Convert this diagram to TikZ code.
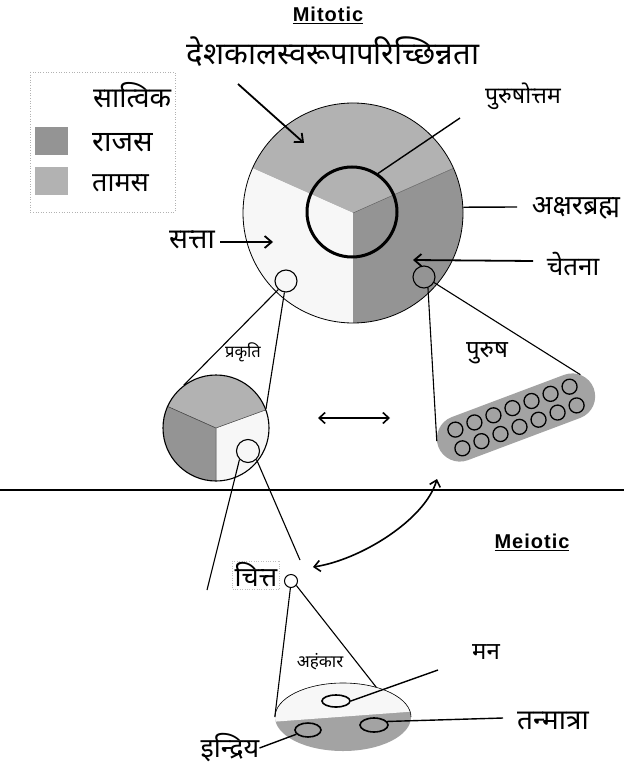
\documentclass[tikz,border=0pt]{standalone}
\usepackage{fontspec}
\setmainfont{Liberation Sans}
\newfontfamily\dev[Script=Devanagari]{Noto Sans}
\usetikzlibrary{arrows.meta,shapes.misc,shapes.geometric}
\definecolor{tamas}{gray}{0.70}
\definecolor{rajas}{gray}{0.58}
\definecolor{satv}{gray}{0.97}
\definecolor{pgray}{gray}{0.64}
\begin{document}
\begin{tikzpicture}[x=1pt,y=-1pt,
  conn/.style={line width=1.1pt},
  arr/.style={line width=1.8pt,-{Straight Barb[length=7pt,width=12pt]}},
  dbl/.style={line width=1.6pt,{Straight Barb[length=6pt,width=11pt]}-{Straight Barb[length=6pt,width=11pt]}},
  lbl/.style={font=\dev\fontsize{#1}{#1}\selectfont,inner sep=0pt},
  lbl/.default=26,
  hd/.style={font=\bfseries\fontsize{20}{22}\selectfont\addfontfeature{LetterSpace=5},inner sep=0pt},
  ring/.style={circle,draw,inner sep=0pt,line width=1.1pt}]
\useasboundingbox (0,0) rectangle (624,767);
\fill[white] (0,0) rectangle (624,767);

% headings
\node[hd] (mit) at (328,15) {\underline{Mitotic}};
\node[hd] (mei) at (532,542) {\underline{Meiotic}};

% legend
\draw[gray!60,dotted,line width=0.6pt] (30,72) rectangle (175,212);
\fill[rajas] (35,127) rectangle (68,155);
\fill[tamas] (35,167) rectangle (68,195);
\node[lbl=28,anchor=west] (lsat) at (93,95) {सात्विक};
\node[lbl=29,anchor=west] (lraj) at (92,143) {राजस};
\node[lbl=27,anchor=west] (ltam) at (92,183) {तामस};

% big circle sectors
\fill[tamas] (353,213) -- ++(-24:110) arc[start angle=-24,end angle=-156,radius=110] -- cycle;
\fill[satv] (353,213) -- ++(-156:110) arc[start angle=-156,end angle=-270,radius=110] -- cycle;
\fill[rajas] (353,213) -- ++(-270:110) arc[start angle=-270,end angle=-384,radius=110] -- cycle;
\draw[gray!70!black,line width=0.4pt] (353,213) -- ++(-24:110);
\node[ring,line width=0.8pt,minimum size=220pt] (big) at (353,213) {};
\node[ring,line width=3pt,minimum size=90pt] (inner) at (352,212) {};
\node[ring,minimum size=22pt] (sL) at (286,281) {};
\node[ring,minimum size=22pt] (sR) at (424,277) {};

% labels around big circle
\node[lbl=31] (desh) at (333,52) {देशकालस्वरूपापरिच्छिन्नता};
\coordinate (deshA) at (238,84);
\coordinate (deshB) at (304,143);
\draw[arr] (deshA) -- (deshB);
\node[lbl=23] (puro) at (523,96) {पुरुषोत्तम};
\coordinate (puroA) at (460,118);
\draw[conn,line width=1.4pt] (puroA) -- (inner.56);
\node[lbl=27] (aksh) at (576,208) {अक्षरब्रह्म};
\coordinate (akshA) at (517,207);
\draw[conn,line width=1.4pt] (big.3) -- (akshA);
\node[lbl=26] (chet) at (573,264) {चेतना};
\coordinate (chetA) at (533,261);
\coordinate (chetB) at (413,260);
\draw[arr] (chetA) -- (chetB);
\node[lbl=28] (satt) at (192,240) {सत्ता};
\coordinate (sattA) at (220,242);
\coordinate (sattB) at (273,242);
\draw[arr] (sattA) -- (sattB);

% prakriti circle
\fill[tamas] (216,428) -- ++(-20:53) arc[start angle=-20,end angle=-156,radius=53] -- cycle;
\fill[rajas] (216,428) -- ++(-156:53) arc[start angle=-156,end angle=-270,radius=53] -- cycle;
\fill[satv] (216,428) -- ++(-270:53) arc[start angle=-270,end angle=-380,radius=53] -- cycle;
\draw[gray!40!black,line width=0.5pt] (216,428) -- ++(-156:53) (216,428) -- ++(-270:53) (216,428) -- ++(-20:53);
\node[ring,minimum size=106pt] (pk) at (216,428) {};
\node[ring,minimum size=23pt] (pkS) at (248,451) {};
\node[lbl=16.5] (pkT) at (243,352) {प्रकृति};
\draw[conn] (sL.228) -- (pk.127);
\draw[conn] (sL.262) -- (pk.21);

% purusha capsule
\node[rounded rectangle,fill=pgray,minimum width=166pt,minimum height=46pt,inner sep=0pt,rotate=20.6] (pur) at (516,417.5) {};
\begin{scope}[shift={(516,417.5)},rotate=20.6]
  \foreach \i in {0,...,6} {
    \draw[line width=1.3pt] (-61+20.33*\i,-10) circle[radius=7.5];
    \draw[line width=1.3pt] (-61+20.33*\i,10) circle[radius=7.5];
  }
\end{scope}
\node[lbl=24] (purT) at (487,353) {पुरुष};
\draw[conn] (sR.290) -- (pur.176);
\draw[conn] (sR.331) -- (pur.13);

% middle double arrow
\coordinate (h1) at (318,418);
\coordinate (h2) at (390,418);
\draw[dbl] (h1) -- (h2);

% separator
\draw[line width=2.4pt] (0,490) -- (624,490);

% chitta
\node[ring,line width=1pt,minimum size=13pt] (ch) at (291,581) {};
\node[lbl=27,draw=gray!50,dotted,inner sep=2pt] (chT) at (256,575) {चित्त};
\coordinate (c1) at (207,590);
\coordinate (c2) at (300,560);
\draw[conn] (pkS.225) -- (c1);
\draw[conn] (pkS.315) -- (c2);
\coordinate (ca) at (437,479);
\coordinate (cb) at (313,567);
\draw[dbl] (ca) .. controls (425,520) and (360,560) .. (cb);

% disk
\fill[pgray] (343,717) ellipse [x radius=68,y radius=34];
\begin{scope}
  \clip (343,717) ellipse [x radius=68,y radius=34];
  \fill[satv] (270,680) -- (420,680) -- (420,711) -- (270,722) -- cycle;
\end{scope}
\draw[line width=0.6pt] (275,717) arc[start angle=-180,end angle=0,x radius=68,y radius=34];
\node[ellipse,minimum width=136pt,minimum height=68pt,inner sep=0pt] (disk) at (343,717) {};
\node[ellipse,draw,line width=1.6pt,minimum width=28pt,minimum height=12pt,inner sep=0pt] (man) at (336,701) {};
\node[ellipse,draw,line width=1.6pt,minimum width=26pt,minimum height=14pt,inner sep=0pt] (ind) at (308,730) {};
\node[ellipse,draw,line width=1.6pt,minimum width=28pt,minimum height=14pt,inner sep=0pt] (tan) at (374,725) {};
\node[lbl=17] (ahk) at (320,662) {अहंकार};
\draw[conn] (ch.265) -- (disk.west);
\draw[conn] (ch.-40) -- (disk.42);

\node[lbl=24] (manT) at (486,652) {मन};
\coordinate (mE) at (438,670);
\draw[conn,line width=1.4pt] (man.east) -- (mE);
\node[lbl=28] (tanT) at (553,721) {तन्मात्रा};
\coordinate (tE) at (503,718);
\draw[conn,line width=1.4pt] (tan.15) -- (tE);
\node[lbl=27] (indT) at (230,748) {इन्द्रिय};
\draw[conn,line width=1.4pt] (indT.east) -- (ind.200);
\end{tikzpicture}
\end{document}
